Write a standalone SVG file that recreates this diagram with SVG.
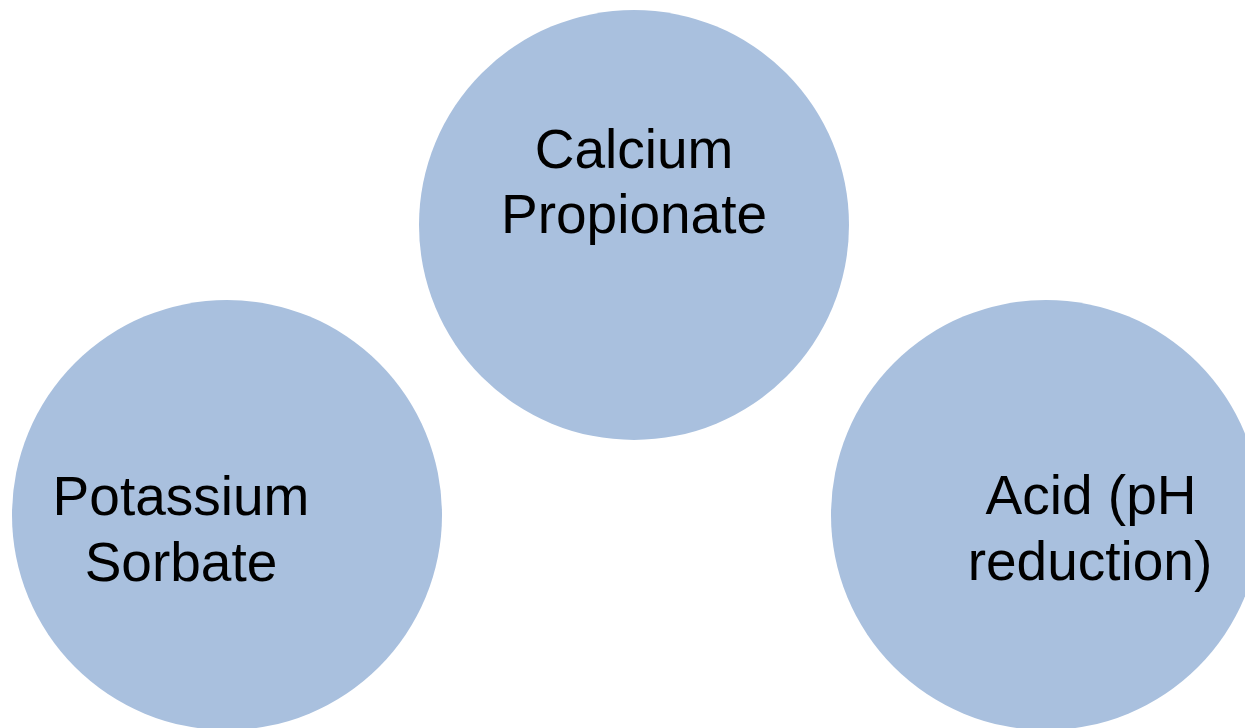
<svg xmlns="http://www.w3.org/2000/svg" width="1245" height="728" viewBox="0 0 1245 728">
<style>
.c{fill:#A9C0DE;}
.t{font-family:"Liberation Sans",Arial,sans-serif;font-size:55px;fill:#000;text-anchor:middle;}
</style>
<rect width="1245" height="728" fill="#fff"/>
<g id="connectors"></g>
<g id="calcium">
<circle class="c" cx="634" cy="225" r="215"/>
<text class="t" x="634" y="168">Calcium</text>
<text class="t" x="634" y="233">Propionate</text>
</g>
<g id="potassium">
<circle class="c" cx="227" cy="515" r="215"/>
<text class="t" x="181" y="515">Potassium</text>
<text class="t" x="181" y="581">Sorbate</text>
</g>
<g id="acid">
<circle class="c" cx="1046" cy="515" r="215"/>
<text class="t" x="1091" y="514">Acid (pH</text>
<text class="t" x="1090" y="580">reduction)</text>
</g>
</svg>
